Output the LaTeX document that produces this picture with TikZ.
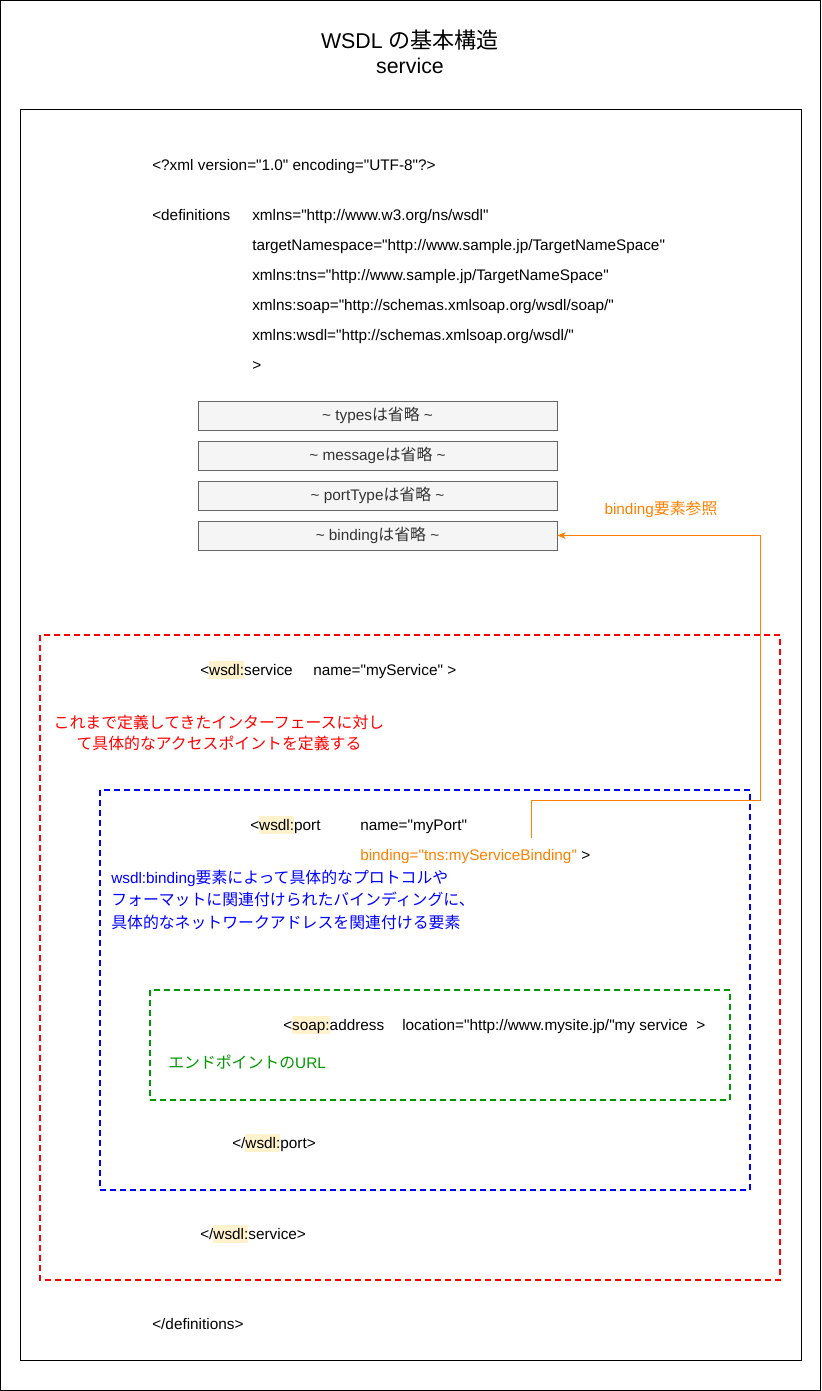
\documentclass[tikz,border=0pt]{standalone}
\usepackage{fontspec}
\setmainfont{Liberation Sans}
\newfontfamily\lsans{Liberation Sans}
\newfontfamily\jpfont{Noto Sans CJK JP}[Scale=1.035]
\usepackage{tikz}
\usetikzlibrary{arrows.meta}
\usepackage{xcolor}
\definecolor{scopeRed}{HTML}{FF0000}
\definecolor{scopeBlue}{HTML}{0000FF}
\definecolor{scopeGreen}{HTML}{009900}
\definecolor{refOrange}{HTML}{FF8000}
\definecolor{omitFill}{HTML}{F5F5F5}
\definecolor{omitLine}{HTML}{666666}
\definecolor{omitText}{HTML}{333333}
\definecolor{prefixYellow}{HTML}{FFF2CC}
\newcommand{\jp}[1]{{\jpfont #1}}
\newcommand{\codefont}{\lsans\fontsize{11.5pt}{14pt}\selectfont}
\newcommand{\titlefont}{\lsans\fontsize{16pt}{19pt}\selectfont}
\newcommand{\hlt}[1]{{\setlength{\fboxsep}{0pt}\colorbox{prefixYellow}{\rule[-2.8pt]{0pt}{13.8pt}#1}}}

\begin{document}
\begin{tikzpicture}[x=0.75pt, y=-0.75pt,
        code/.style={anchor=base west, inner sep=0pt, font=\codefont},
        omitbox/.style={draw=omitLine, fill=omitFill, text=omitText, line width=0.75pt, minimum width=269.25pt, minimum height=21.75pt, inner sep=0pt, font=\codefont},
        scopebox/.style={line width=1.5pt, dash pattern=on 4.5pt off 3pt},
        refline/.style={draw=refOrange, line width=0.75pt, -{Stealth[length=6pt, width=5pt, inset=1.5pt]}}]
        \useasboundingbox (0,0) rectangle (821,1391);
        \draw [line width=0.75pt] (0.5,0.5) rectangle (820.5,1390.5);
        \draw [line width=0.75pt] (20,110) rectangle (801,1360);
        \node [anchor=base, inner sep=0pt, font=\titlefont] (title) at (410,49) {WSDL \jp{の基本構造}};
        \node [anchor=base, inner sep=0pt, font=\titlefont] (subtitle) at (410,74) {service};
        % definitions header
        \node [code] (xmldecl) at (152,170.5) {<?xml version="1.0" encoding="UTF-8"?>};
        \node [code] (defs) at (152,220.5) {<definitions};
        \foreach \attr [count=\i from 0] in {{xmlns="http://www.w3.org/ns/wsdl"}, {targetNamespace="http://www.sample.jp/TargetNameSpace"}, {xmlns:tns="http://www.sample.jp/TargetNameSpace"}, {xmlns:soap="http://schemas.xmlsoap.org/wsdl/soap/"}, {xmlns:wsdl="http://schemas.xmlsoap.org/wsdl/"}, {>}} {\node [code] (defattr-\i) at (252,220.5+30*\i) {\attr};};
        \foreach \name/\txt [count=\i from 0] in {types/types, message/message, porttype/portType, binding/binding} {\node [omitbox] (omit-\name) at (377.5,415.5+40*\i) {\textasciitilde\ \txt\jp{は省略} \textasciitilde};};
        % service
        \draw [scopebox, draw=scopeRed] (40,635) rectangle (780,1280);
        \node [code] (svc-open) at (200,675.5) {<\hlt{wsdl:}service};
        \node [code] (svc-name) at (313,675.5) {name="myService" >};
        \node [align=center, inner sep=0pt, text=scopeRed, font=\fontsize{11.5pt}{15.75pt}\selectfont\jpfont] (svc-note) at (219,732.5) {これまで定義してきたインターフェースに対し\\て具体的なアクセスポイントを定義する};
        % port
        \draw [scopebox, draw=scopeBlue] (100,790) rectangle (750,1190);
        \node [code] (port-open) at (250,830.5) {<\hlt{wsdl:}port};
        \node [code] (port-name) at (360,830.5) {name="myPort"};
        \node [code] (bindattr) at (360,860.5) {\textcolor{refOrange}{binding="tns:myServiceBinding"} >};
        \node [anchor=west, align=left, inner sep=0pt, text=scopeBlue, font=\lsans\fontsize{11.5pt}{16.9pt}\selectfont] (port-note) at (111,899.5) {wsdl:binding\jp{要素によって具体的なプロトコルや}\\\jp{フォーマットに関連付けられたバインディングに、}\\\jp{具体的なネットワークアドレスを関連付ける要素}};
        % address
        \draw [scopebox, draw=scopeGreen] (150,990) rectangle (730,1100);
        \node [code] (soap-open) at (283,1030.5) {<\hlt{soap:}address};
        \node [code] (soap-loc) at (402,1030.5) {location="http://www.mysite.jp/"my service\ \ >};
        \node [code, text=scopeGreen] (soap-note) at (168,1068.5) {\jp{エンドポイントの}URL};
        \node [code] (port-close) at (232,1148.5) {</\hlt{wsdl:}port>};
        \node [code] (svc-close) at (200,1239.5) {</\hlt{wsdl:}service>};
        \node [code] (defs-close) at (152,1329.5) {</definitions>};
        % binding reference
        \node [anchor=base, inner sep=0pt, text=refOrange, font=\codefont] (ref-label) at (661,514.5) {binding\jp{要素参照}};
        \coordinate (ref-start) at (531,838);
        \draw [refline] (ref-start) |- (760,800) |- (omit-binding.east);
    \end{tikzpicture}
\end{document}
